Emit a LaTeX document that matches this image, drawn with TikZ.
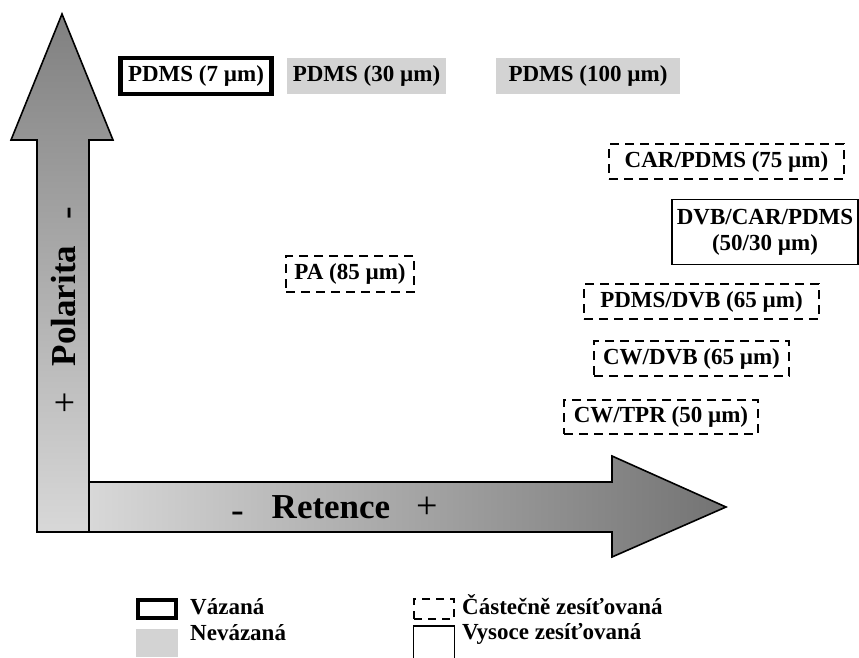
\documentclass[tikz,border=0pt]{standalone}
\usepackage{fontspec}
\setmainfont{Liberation Serif}
\usetikzlibrary{positioning}
\definecolor{boxgrey}{RGB}{211,211,211}
\definecolor{arrdark}{RGB}{128,128,128}
\definecolor{arrlight}{RGB}{216,216,216}

\begin{document}
\begin{tikzpicture}[x=1pt,y=-1pt,font=\fontsize{23}{26}\selectfont\bfseries,
 fib/.style={inner sep=0pt,align=center},
 vazana/.style={fib,draw=black,line width=4.5pt},
 nevazana/.style={fib,fill=boxgrey},
 castecne/.style={fib,draw=black,line width=2pt,dash pattern=on 9pt off 6pt},
 vysoce/.style={fib,draw=black,line width=1.5pt},
 osa/.style={draw=black,line width=1.6pt,line join=miter},
 osatext/.style={anchor=base,inner sep=0pt,font=\fontsize{35}{38}\selectfont\bfseries},
 znak/.style={anchor=base,inner sep=0pt,font=\fontsize{38}{40}\selectfont},
 legtext/.style={anchor=west,inner sep=0pt,text height=16pt,text depth=4pt}]
\useasboundingbox (0,0) rectangle (859,657);
% axes
\path[osa,top color=arrdark,bottom color=arrlight]
 (37,532)--(37,140)--(11,140)--(62,14)--(113,140)--(89,140)--(89,532)--cycle;
\path[osa,left color=arrlight,right color=arrdark!90!black]
 (89,482)--(612,482)--(612,456)--(726,507)--(612,557)--(612,532)--(89,532)--cycle;
\node[osatext,rotate=90] (polarita) at (75,306) {Polarita};
\node[znak,rotate=90] (polminus) at (78.5,213) {-};
\node[znak,rotate=90] (polplus) at (77.5,403) {+};
\node[osatext] (retence) at (331,518) {Retence};
\node[znak] (retminus) at (238,522.5) {-};
\node[znak] (retplus) at (427,518) {+};
% fibres
\node[vazana,minimum width=151pt,minimum height=36pt] (pdms7) at (196,76) {PDMS (7 µm)};
\node[nevazana,minimum width=159pt,minimum height=36pt] (pdms30) at (366.5,76) {PDMS (30 µm)};
\node[nevazana,minimum width=184pt,minimum height=36pt] (pdms100) at (588,76) {PDMS (100 µm)};
\node[castecne,minimum width=235pt,minimum height=35pt] (carpdms) at (726.5,161.5) {CAR/PDMS (75 µm)};
\node[vysoce,minimum width=186pt,minimum height=65pt] (dvbcar) at (765,232) {DVB/CAR/PDMS\\(50/30 µm)};
\node[castecne,minimum width=128pt,minimum height=36pt] (pa) at (350,274) {PA (85 µm)};
\node[castecne,minimum width=235pt,minimum height=35pt] (pdmsdvb) at (701.5,301.5) {PDMS/DVB (65 µm)};
\node[castecne,minimum width=195pt,minimum height=35pt] (cwdvb) at (691.5,358.5) {CW/DVB (65 µm)};
\node[castecne,minimum width=194pt,minimum height=34pt] (cwtpr) at (661,417) {CW/TPR (50 µm)};
% legend
\node[vazana,line width=4pt,minimum width=38pt,minimum height=18pt] (legvaz) at (157,609) {};
\node[nevazana,minimum width=42pt,minimum height=28pt] (legnevaz) at (157,643) {};
\node[castecne,line width=1.8pt,dash pattern=on 8pt off 6pt,minimum width=40pt,minimum height=20pt] (legcast) at (434,609) {};
\node[vysoce,minimum width=41pt,minimum height=40pt] (legvys) at (434,646) {};
\node[legtext] (tvaz) at (190,608) {Vázaná};
\node[legtext] (tnevaz) at (190,634) {Nevázaná};
\node[legtext] (tcast) at (462,608) {Částečně zesíťovaná};
\node[legtext] (tvys) at (462,633) {Vysoce zesíťovaná};
\end{tikzpicture}
\end{document}
